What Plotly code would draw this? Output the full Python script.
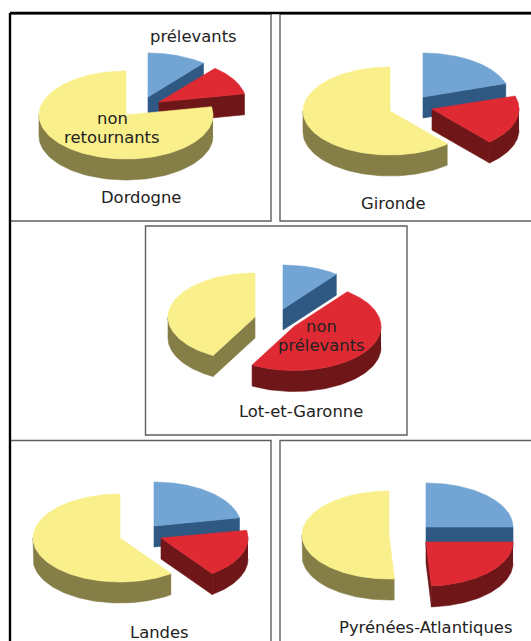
import numpy as np
import plotly.graph_objects as go

# --- data: share of each group (percent), per department
departments = ["Dordogne", "Gironde", "Lot-et-Garonne", "Landes", "Pyrénées-Atlantiques"]
prelevants = [11, 20, 10.5, 22, 25]
non_prelevants = [11, 18.5, 47.5, 18, 24]
non_retournants = [78, 61.5, 42, 60, 51]

# --- layout: pixel frame of the photographed figure
W, H = 531, 641
RX, RY, DEPTH = 87, 44, 21
TOP_COLORS = ["#72A4D4", "#DF2A33", "#F9F08B"]
WALL_COLORS = ["#2F5883", "#6E1618", "#857E47"]
# apex of each exploded slice (blue, red, yellow) per department
APEX = [
    [(148, 97), (159, 102), (126, 115)],
    [(423, 97), (432, 109), (390, 111)],
    [(283, 309), (294, 326.5), (255, 317)],
    [(154, 526), (161, 538), (120, 538)],
    [(426, 527), (426, 542), (389, 535)],
]
TITLE_POS = [(141, 197), (393, 203), (301, 411), (159, 632), (425, 627)]
EXTRA_LABELS = [
    ("prélevants", 193, 36), ("non", 112, 118), ("retournants", 112, 137),
    ("non", 321, 326), ("prélevants", 321, 345),
]
GREY_BOXES = [
    (10, 14, 271, 221), (280, 14, 533, 221), (145.5, 226, 407, 435),
    (10, 440.5, 271, 645), (280, 440.5, 533, 645),
]
BLACK_LINES = [(10, 13, 531, 13), (10, 13, 10, 641)]


def rim(cx, cy, t):
    return cx + RX * np.sin(t), cy - RY * np.cos(t)


def poly(fig, x, y, color):
    fig.add_trace(go.Scatter(
        x=list(x), y=list(y), mode="lines", fill="toself", fillcolor=color,
        line=dict(color=color, width=0.6), hoverinfo="skip", showlegend=False))


fig = go.Figure()

for i, name in enumerate(departments):
    shares = [prelevants[i], non_prelevants[i], non_retournants[i]]
    start = 0.0
    for k, share in enumerate(shares):
        end = start + share / 100 * 2 * np.pi
        cx, cy = APEX[i][k]
        # radial faces that look towards the viewer
        for a, visible in ((start, np.sin(start) < -1e-6), (end, np.sin(end) > 1e-6)):
            if visible:
                ex, ey = rim(cx, cy, a)
                poly(fig, [cx, ex, ex, cx, cx], [cy, ey, ey + DEPTH, cy + DEPTH, cy], WALL_COLORS[k])
        # outer wall, front half only
        w0, w1 = max(start, np.pi / 2), min(end, 3 * np.pi / 2)
        if w1 > w0:
            t = np.linspace(w0, w1, 80)
            ax, ay = rim(cx, cy, t)
            poly(fig, np.r_[ax, ax[::-1]], np.r_[ay, ay[::-1] + DEPTH], WALL_COLORS[k])
        # top
        t = np.linspace(start, end, 160)
        ax, ay = rim(cx, cy, t)
        poly(fig, np.r_[cx, ax, cx], np.r_[cy, ay, cy], TOP_COLORS[k])
        start = end

shapes = []
for x0, y0, x1, y1 in GREY_BOXES:
    shapes.append(dict(type="rect", x0=x0, y0=y0, x1=x1, y1=y1, layer="below",
                       line=dict(color="#5f5f5f", width=1.4), fillcolor="white"))
for x0, y0, x1, y1 in BLACK_LINES:
    shapes.append(dict(type="line", x0=x0, y0=y0, x1=x1, y1=y1,
                       line=dict(color="#000000", width=2.4)))

annotations = []
labels = [(n, *p) for n, p in zip(departments, TITLE_POS)] + EXTRA_LABELS
for text, x, y in labels:
    annotations.append(dict(text=text, x=x, y=y, xref="x", yref="y", showarrow=False,
                            xanchor="center", yanchor="middle",
                            font=dict(family="DejaVu Sans", size=16.4, color="#222222")))

fig.update_layout(
    width=W, height=H, margin=dict(l=0, r=0, t=0, b=0),
    paper_bgcolor="white", plot_bgcolor="white", showlegend=False,
    xaxis=dict(range=[0, W], visible=False, fixedrange=True),
    yaxis=dict(range=[H, 0], visible=False, fixedrange=True),
    shapes=shapes, annotations=annotations,
)
fig.write_html("out.html", config=dict(displayModeBar=False),
               post_script="document.body.style.margin='0';document.body.style.overflow='hidden';")
